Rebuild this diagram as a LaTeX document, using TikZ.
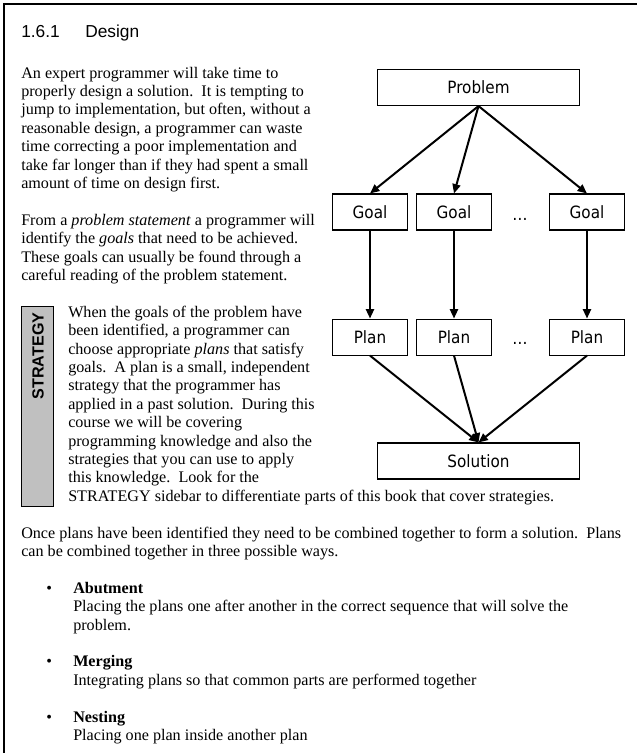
\documentclass[tikz,border=0pt]{standalone}
\usepackage{fontspec}
\setmainfont{Liberation Serif}
\setsansfont{Liberation Sans}
\newfontfamily\diagfont[FakeStretch=0.9]{DejaVu Sans}
\usetikzlibrary{arrows.meta,positioning}

\definecolor{sidebargray}{RGB}{192,192,192}

\tikzset{
  box/.style={rectangle, draw, line width=0.8pt, minimum height=27pt, inner sep=0pt,
    font=\diagfont\fontsize{12.7}{15}\selectfont},
  widebox/.style={box, minimum width=151pt},
  smallbox/.style={box, minimum width=56.25pt},
  flow/.style={->, line width=1.5pt},
  body/.style={anchor=base west, inner sep=0pt, align=left,
    font=\fontsize{12.1}{13.8}\selectfont},
  heading/.style={anchor=base west, inner sep=0pt, font=\sffamily\fontsize{13}{15}\selectfont},
}

\begin{document}
\begin{tikzpicture}[x=0.75pt, y=-0.75pt, >={Triangle[length=7pt,width=6pt]}]
    \useasboundingbox (0,0) rectangle (637,753);

    % page corner
    \draw[line width=2.2pt] (4,753) -- (4,4) -- (637,4);

    % section heading
    \node[heading] (secnum) at (21,37) {1.6.1};
    \node[heading] (sectitle) at (85,37) {Design};

    % text column (each node sits on the baseline of its last line)
    \node[body] (intro) at (21,188.4) {%
        An expert programmer will take time to\\
        properly design a solution.\ \ It is tempting to\\
        jump to implementation, but often, without a\\
        reasonable design, a programmer can waste\\
        time correcting a poor implementation and\\
        take far longer than if they had spent a small\\
        amount of time on design first.};

    \node[body] (goaltext) at (21,280.4) {%
        From a \emph{problem statement} a programmer will\\
        identify the \emph{goals} that need to be achieved.\\
        These goals can usually be found through a\\
        careful reading of the problem statement.};

    % strategy sidebar
    \node[draw, fill=sidebargray, line width=0.6pt, minimum width=24pt, minimum height=150pt,
        inner sep=0pt] (stratbar) at (37,406) {};
    \node[rotate=90, inner sep=0pt, font=\sffamily\bfseries\fontsize{12.1}{14}\selectfont]
        (stratlabel) at (38,356) {STRATEGY};

    \node[body] (plantext) at (68,501.2) {%
        When the goals of the problem have\\
        been identified, a programmer can\\
        choose appropriate \emph{plans} that satisfy\\
        goals.\ \ A plan is a small, independent\\
        strategy that the programmer has\\
        applied in a past solution.\ \ During this\\
        course we will be covering\\
        programming knowledge and also the\\
        strategies that you can use to apply\\
        this knowledge.\ \ Look for the\\
        STRATEGY sidebar to differentiate parts of this book that cover strategies.};

    \node[body] (combinetext) at (21,556.4) {%
        Once plans have been identified they need to be combined together to form a solution.\ \ Plans\\
        can be combined together in three possible ways.};

    % the three ways
    \node[body] (abutdot) at (46,593.2) {\textbullet};
    \node[body] (abut) at (73,593.2) {\textbf{Abutment}};
    \node[body] (abutdesc) at (73,630) {%
        Placing the plans one after another in the correct sequence that will solve the\\
        problem.};
    \node[body] (mergedot) at (46,666.8) {\textbullet};
    \node[body] (merge) at (73,666.8) {\textbf{Merging}};
    \node[body] (mergedesc) at (73,685.2) {Integrating plans so that common parts are performed together};
    \node[body] (nestdot) at (46,722) {\textbullet};
    \node[body] (nest) at (73,722) {\textbf{Nesting}};
    \node[body] (nestdesc) at (73,740.4) {Placing one plan inside another plan};

    % design diagram
    \node[widebox] (problem) at (478.5,87.5) {Problem};
    \node[smallbox] (goalA) at (370,212) {Goal};
    \node[smallbox] (goalB) at (454,212) {Goal};
    \node[smallbox] (goalC) at (587,212) {Goal};
    \node[inner sep=0pt, anchor=base, font=\diagfont\fontsize{12.7}{15}\selectfont] (goaldots) at (520,220) {…};
    \node[smallbox, below=66pt of goalA] (planA) {Plan};
    \node[smallbox, below=66pt of goalB] (planB) {Plan};
    \node[smallbox, below=66pt of goalC] (planC) {Plan};
    \node[inner sep=0pt, anchor=base, font=\diagfont\fontsize{12.7}{15}\selectfont] (plandots) at (520,344) {…};
    \node[widebox] (solution) at (478.5,461) {Solution};

    \draw[flow] (problem.south) -- (goalA.north);
    \draw[flow] (problem.south) -- (goalB.north);
    \draw[flow] (problem.south) -- (goalC.north);
    \draw[flow] (goalA.south) -- (planA.north);
    \draw[flow] (goalB.south) -- (planB.north);
    \draw[flow] (goalC.south) -- (planC.north);
    \draw[flow] (planA.south) -- (solution.north);
    \draw[flow] (planB.south) -- (solution.north);
    \draw[flow] (planC.south) -- (solution.north);
\end{tikzpicture}
\end{document}
